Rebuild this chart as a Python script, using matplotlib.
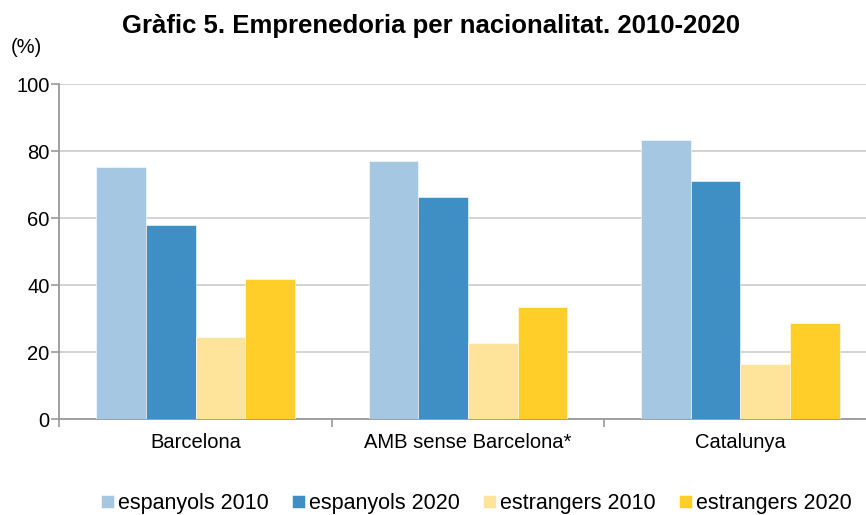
import matplotlib
matplotlib.use("Agg")
import matplotlib.pyplot as plt
import numpy as np

categories = ["Barcelona", "AMB sense Barcelona*", "Catalunya"]
series_names = ["espanyols 2010", "espanyols 2020", "estrangers 2010", "estrangers 2020"]
esp_2010 = [75.2, 77.1, 83.4]
esp_2020 = [58.1, 66.3, 71.0]
estr_2010 = [24.6, 22.7, 16.4]
estr_2020 = [41.8, 33.5, 28.7]
yticks = [0, 20, 40, 60, 80, 100]

colors = ["#A5C7E2", "#3F8FC4", "#FEE49A", "#FFCE29"]
series = [esp_2010, esp_2020, estr_2010, estr_2020]

plt.rcParams['font.family'] = ['Liberation Sans', 'DejaVu Sans']

fig = plt.figure(figsize=(8.66, 5.15), dpi=100)
ax = fig.add_axes([0.0685, 0.1858, 1 - 0.0685, 0.6505])

x = np.arange(len(categories))
w = 0.1825
for i, (vals, name, c) in enumerate(zip(series, series_names, colors)):
    ax.bar(x + (i - 1.5) * w, vals, width=w, color=c, label=name,
           edgecolor="white", linewidth=0.4, zorder=3)

ax.set_yticks(yticks)
ax.yaxis.grid(True, color="#D0D0D0", linewidth=1.3, zorder=0)
ax.set_axisbelow(True)

ax.set_xticks([-0.5, 0.5, 1.5, 2.5])
ax.set_xticklabels([])
ax.set_xticks(x, minor=True)
ax.set_xticklabels(categories, minor=True, fontsize=14.5)
ax.set_xlim(-0.5, 2.461)
ax.set_ylim(0, 100)
ax.tick_params(axis="x", which="minor", length=0, pad=10)
ax.tick_params(axis="x", which="major", length=6, width=1.2, color="#999999", direction="out")
ax.tick_params(axis="y", length=6, width=1.2, color="#999999", labelsize=14.5, pad=1)

for s in ["top", "right"]:
    ax.spines[s].set_visible(False)
for s in ["left", "bottom"]:
    ax.spines[s].set_color("#999999")
    ax.spines[s].set_linewidth(1.3)

fig.text(0.498, 0.950, "Gràfic 5. Emprenedoria per nacionalitat. 2010-2020",
         ha="center", va="center", fontsize=18.5, fontweight="bold")
fig.text(0.012, 0.908, "(%)", ha="left", va="center", fontsize=14.5)

handles, labels = ax.get_legend_handles_labels()
fig.legend(handles, labels, loc="center", bbox_to_anchor=(0.5502, 0.022), ncol=4,
           frameon=False, fontsize=15.5, handlelength=0.6, handleheight=0.6,
           handletextpad=0.2, columnspacing=1.07, borderaxespad=0)

fig.savefig("out.png", dpi=100)
